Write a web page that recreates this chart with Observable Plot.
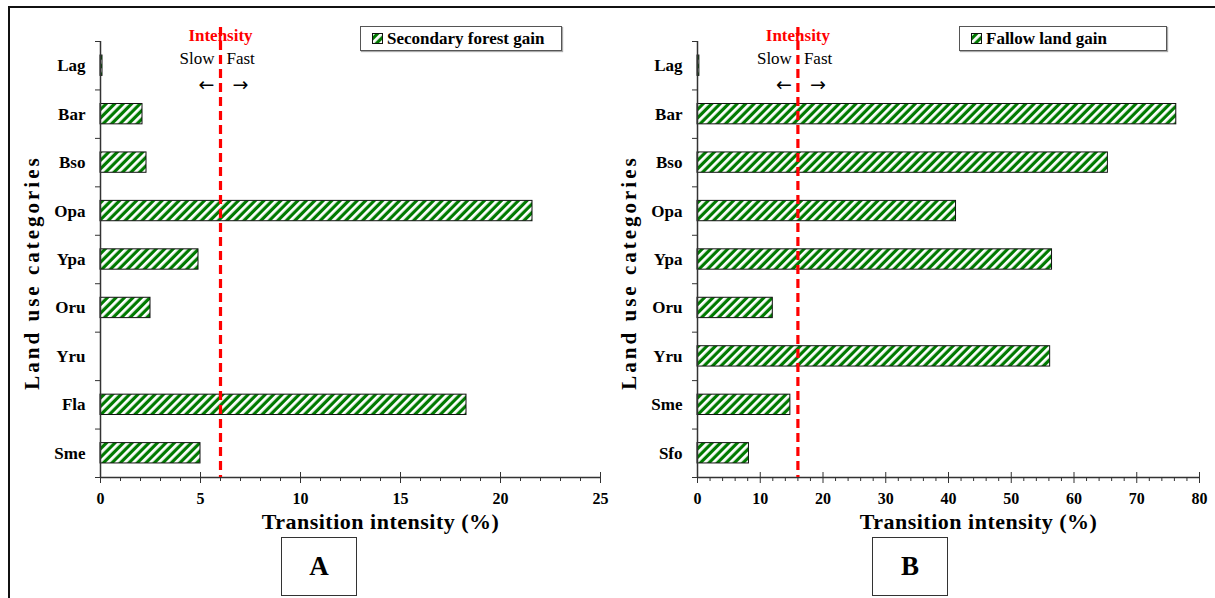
<!DOCTYPE html>
<html>
<head>
<meta charset="utf-8">
<script src="https://cdn.jsdelivr.net/npm/d3@7"></script>
<script src="https://cdn.jsdelivr.net/npm/@observablehq/plot@0.6"></script>
<style>
  html, body { margin: 0; padding: 0; background: white; }
  #wrap { position: relative; width: 1215px; height: 598px; overflow: hidden; background: white;
          font-family: "Liberation Serif", "Times New Roman", serif; }
  .frame { position: absolute; left: 8px; top: 6px; width: 1220px; height: 620px;
           border-top: 2px solid #111; border-left: 2px solid #111; }
  .legend { position: absolute; top: 26px; height: 23px; border: 1.5px solid #555;
            box-shadow: 1px 1px 1px #aaa; background: white; display: flex; align-items: center;
            font-weight: bold; font-size: 17px; white-space: nowrap; box-sizing: content-box; }
  .legend svg { margin: 0 4px 0 11px; }
  .tag { position: absolute; top: 537px; height: 57px; border: 1.5px solid #333; background: white;
         display: flex; align-items: center; justify-content: center; font-weight: bold; font-size: 27px; }
</style>
</head>
<body>
<div id="wrap">
  <div class="frame"></div>
</div>
<script>
// ---------------- data ----------------
const catsA = ["Lag", "Bar", "Bso", "Opa", "Ypa", "Oru", "Yru", "Fla", "Sme"];
const valsA = [0.1, 2.1, 2.3, 21.6, 4.9, 2.5, 0, 18.3, 5.0];
const intensityA = 6;
const ticksA = [0, 5, 10, 15, 20, 25];
const legendA = "Secondary forest gain";

const catsB = ["Lag", "Bar", "Bso", "Opa", "Ypa", "Oru", "Yru", "Sme", "Sfo"];
const valsB = [0.3, 76.3, 65.4, 41.2, 56.5, 12.0, 56.2, 14.8, 8.2];
const intensityB = 16;
const ticksB = [0, 10, 20, 30, 40, 50, 60, 70, 80];
const legendB = "Fallow land gain";

const xTitle = "Transition intensity (%)";
const yTitle = "Land use categories";
const intensityLabel = "Intensity";
const slowLabel = "Slow";
const fastLabel = "Fast";

const GREEN = "#007a00";
const FONT = "'Liberation Serif', 'Times New Roman', serif";

function hatchDef(id) {
  return `<pattern id="${id}" patternUnits="userSpaceOnUse" width="6" height="6" patternTransform="rotate(45)">
            <rect width="6" height="6" fill="${GREEN}"></rect>
            <rect x="0" width="2.8" height="6" fill="white"></rect>
          </pattern>`;
}

function panel({cats, vals, intensity, majors, minorStep, id, left, width, marginRight}) {
  const data = cats.map((c, i) => ({cat: c, i, v: vals[i]})).filter(d => d.v > 0);
  const domain = [majors[0], majors[majors.length - 1]];
  const minors = d3.range(domain[0], domain[1] + 1e-9, minorStep).filter(v => !majors.includes(v));
  const n = cats.length;
  const half = 0.21;
  const svg = Plot.plot({
    width, height: 598,
    marginLeft: 100, marginRight, marginTop: 41, marginBottom: 121,
    style: {background: "transparent", fontFamily: FONT, fontWeight: "bold", fontSize: "16px", color: "black"},
    x: {domain, axis: null, label: null},
    y: {domain: [0, n], reverse: true, axis: null, label: null},
    marks: [
      // bars
      Plot.rect(data, {
        x1: () => 0, x2: "v",
        y1: d => d.i + 0.5 - half, y2: d => d.i + 0.5 + half,
        fill: `url(#${id})`, stroke: "#111", strokeWidth: 1
      }),
      // y axis line + boundary ticks + category labels
      Plot.ruleX([0], {y1: () => 0, y2: () => n, stroke: "#333", strokeWidth: 1.5}),
      Plot.ruleY(d3.range(n + 1), {x1: () => 0, x2: () => 0, insetLeft: -5, stroke: "#333"}),
      Plot.axisY({ticks: d3.range(n).map(i => i + 0.5), tickSize: 0, tickPadding: 15, label: null,
                  tickFormat: t => cats[Math.floor(t)], fontSize: 17, fontWeight: "bold"}),
      // x axis line + ticks
      Plot.ruleY([n], {stroke: "#333", strokeWidth: 1.5}),
      Plot.axisX({ticks: majors, tickSize: 6, tickPadding: 9, label: null, fontSize: 16, fontWeight: "bold", stroke: "#333"}),
      Plot.ruleX(majors, {y1: () => n, y2: () => n, insetTop: -5, stroke: "#333"}),
      Plot.ruleX(minors, {y1: () => n, y2: () => n, insetBottom: -4, stroke: "#333"}),
      // intensity rule and annotations
      Plot.ruleX([intensity], {y1: () => -0.29, y2: () => n, stroke: "#ff0000", strokeWidth: 3.2, strokeDasharray: "9,5"}),
      Plot.text([intensityLabel], {x: () => intensity, frameAnchor: "top", lineAnchor: "middle", textAnchor: "middle",
                                   dy: -6, fill: "#ff0000", fontSize: 17, fontWeight: "bold"}),
      Plot.text([slowLabel], {x: () => intensity, frameAnchor: "top", lineAnchor: "middle", dy: 17, dx: -6,
                              textAnchor: "end", fontSize: 17, fontWeight: "normal"}),
      Plot.text([fastLabel], {x: () => intensity, frameAnchor: "top", lineAnchor: "middle", dy: 17, dx: 6,
                              textAnchor: "start", fontSize: 17, fontWeight: "normal"}),
      Plot.text(["\u2190"], {x: () => intensity, frameAnchor: "top", lineAnchor: "middle", textAnchor: "middle",
                             dy: 43, dx: -14, fontSize: 19, fontWeight: "normal", fontFamily: "DejaVu Sans"}),
      Plot.text(["\u2192"], {x: () => intensity, frameAnchor: "top", lineAnchor: "middle", textAnchor: "middle",
                             dy: 43, dx: 20, fontSize: 19, fontWeight: "normal", fontFamily: "DejaVu Sans"}),
      // titles
      Plot.text([xTitle], {frameAnchor: "bottom", lineAnchor: "middle", textAnchor: "middle",
                           dy: 44, dx: 30, fontSize: 22, fontWeight: "bold"}),
      Plot.text([yTitle], {frameAnchor: "left", lineAnchor: "middle", textAnchor: "middle",
                           dx: -68, dy: 13, rotate: -90, fontSize: 21, fontWeight: "bold"})
    ]
  });
  d3.select(svg).insert("defs", ":first-child").html(hatchDef(id));
  d3.select(svg).selectAll("text").filter(function() { return this.textContent === yTitle; })
    .style("letter-spacing", "3px");
  d3.select(svg).selectAll("text").filter(function() { return this.textContent === xTitle; })
    .style("letter-spacing", "0.5px");
  svg.style.position = "absolute";
  svg.style.left = left + "px";
  svg.style.top = "0px";
  svg.style.maxWidth = "none";
  return svg;
}

function legend(label, left, width, id) {
  const div = document.createElement("div");
  div.className = "legend";
  div.style.left = left + "px";
  div.style.width = width + "px";
  div.innerHTML = `<svg width="11" height="11"><defs>${hatchDef(id)}</defs>
      <rect x="0.5" y="0.5" width="10" height="10" fill="url(#${id})" stroke="#111"></rect></svg><span>${label}</span>`;
  return div;
}

function tag(letter, left, width) {
  const div = document.createElement("div");
  div.className = "tag";
  div.style.left = left + "px";
  div.style.width = width + "px";
  div.textContent = letter;
  return div;
}

const wrap = document.getElementById("wrap");
wrap.appendChild(panel({cats: catsA, vals: valsA, intensity: intensityA, majors: ticksA, minorStep: 1,
                        id: "hatchA", left: 0, width: 612, marginRight: 12}));
wrap.appendChild(panel({cats: catsB, vals: valsB, intensity: intensityB, majors: ticksB, minorStep: 2,
                        id: "hatchB", left: 597, width: 618, marginRight: 16}));
wrap.appendChild(legend(legendA, 360, 200, "hatchLA"));
wrap.appendChild(legend(legendB, 959, 206, "hatchLB"));
wrap.appendChild(tag("A", 281, 74));
wrap.appendChild(tag("B", 872, 74));
</script>
</body>
</html>
